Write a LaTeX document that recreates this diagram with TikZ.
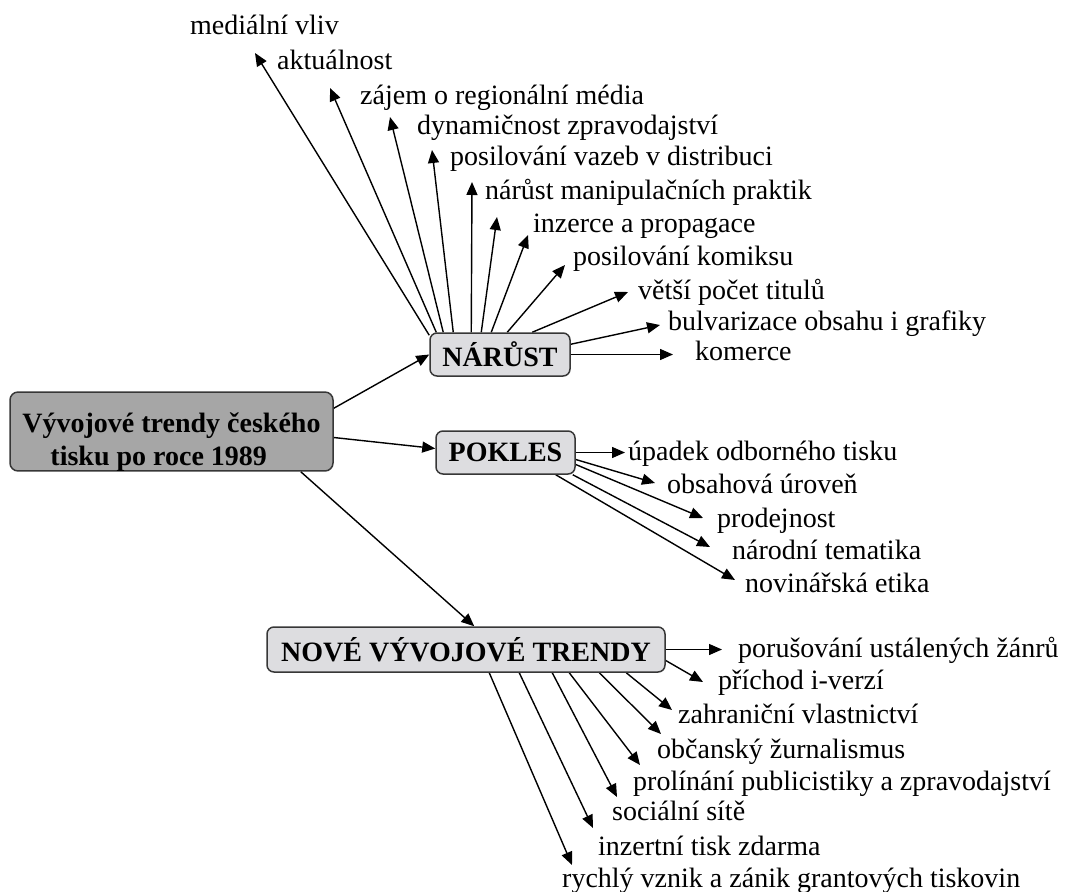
\documentclass[tikz,border=0pt]{standalone}
\usepackage{fontspec}
\setmainfont{Liberation Serif}
\usetikzlibrary{arrows.meta,calc}
\pgfdeclarelayer{bg}
\pgfsetlayers{bg,main}
\definecolor{hubfill}{RGB}{166,166,166}
\definecolor{boxfill}{RGB}{221,221,224}
\definecolor{boxline}{RGB}{55,55,55}
\tikzset{
  hub/.style={draw=boxline, line width=1.5pt, rounded corners=8pt, fill=hubfill,
    font=\fontsize{28}{33}\selectfont\bfseries, inner sep=0pt, align=left},
  branch/.style={draw=boxline, line width=1.5pt, rounded corners=7pt, fill=boxfill,
    font=\fontsize{28}{33}\selectfont\bfseries, inner sep=0pt},
  leaf/.style={font=\fontsize{28}{33}\selectfont, inner sep=0pt, anchor=base west},
  link/.style={line width=1.4pt, -{Triangle[length=13pt,width=11pt]}},
}
\begin{document}
\begin{tikzpicture}[x=1pt,y=-1pt]
\useasboundingbox (0,0) rectangle (1067,891);

% central topic and the three branches
\node[hub, minimum width=323pt, minimum height=77pt] (main) at (171.5,431.5)
  {\rule{0pt}{40pt}Vývojové trendy českého\\\hspace*{28pt}tisku po roce 1989};
\node[branch, minimum width=140pt, minimum height=43pt] (nar) at (500,354.5) {NÁRŮST};
\node[branch, minimum width=139pt, minimum height=43pt] (pok) at (505.5,452.5) {POKLES};
\node[branch, minimum width=398pt, minimum height=45pt] (nov) at (466,649.5) {NOVÉ VÝVOJOVÉ TRENDY};

% growth items
\node[leaf] (n1)  at (190,35)  {mediální vliv};
\node[leaf] (n2)  at (277,69)  {aktuálnost};
\node[leaf] (n3)  at (360,104) {zájem o regionální média};
\node[leaf] (n4)  at (417,134) {dynamičnost zpravodajství};
\node[leaf] (n5)  at (450,165) {posilování vazeb v distribuci};
\node[leaf] (n6)  at (485,199) {nárůst manipulačních praktik};
\node[leaf] (n7)  at (533,232) {inzerce a propagace};
\node[leaf] (n8)  at (573,265) {posilování komiksu};
\node[leaf] (n9)  at (638,299) {větší počet titulů};
\node[leaf] (n10) at (668,330) {bulvarizace obsahu i grafiky};
\node[leaf] (n11) at (695,360) {komerce};

% decline items
\node[leaf] (p1) at (628,460) {úpadek odborného tisku};
\node[leaf] (p2) at (667,493) {obsahová úroveň};
\node[leaf] (p3) at (717,527) {prodejnost};
\node[leaf] (p4) at (732,559) {národní tematika};
\node[leaf] (p5) at (745,592) {novinářská etika};

% new trends items
\node[leaf] (t1) at (738,657) {porušování ustálených žánrů};
\node[leaf] (t2) at (718,689) {příchod i-verzí};
\node[leaf] (t3) at (678,723) {zahraniční vlastnictví};
\node[leaf] (t4) at (657,758) {občanský žurnalismus};
\node[leaf] (t5) at (633,790) {prolínání publicistiky a zpravodajství};
\node[leaf] (t6) at (612,820) {sociální sítě};
\node[leaf] (t7) at (598,855) {inzertní tisk zdarma};
\node[leaf] (t8) at (562,887) {rychlý vznik a zánik grantových tiskovin};

% arrow tips next to the items
\coordinate (n1a) at (255,53);
\coordinate (n2a) at (330,88);
\coordinate (n3a) at (390,117);
\coordinate (n4a) at (432,150);
\coordinate (n5a) at (472,182);
\coordinate (n6a) at (497,217);
\coordinate (n7a) at (528,235);
\coordinate (n8a) at (565,265);
\coordinate (n9a) at (628,292);
\coordinate (n10a) at (660,325);
\coordinate (n11a) at (673,354.5);
\coordinate (p1a) at (625,452.5);
\coordinate (p2a) at (655,483);
\coordinate (p3a) at (703,518);
\coordinate (p4a) at (710,547);
\coordinate (p5a) at (735,580);
\coordinate (t1a) at (722,649.5);
\coordinate (t2a) at (703,682);
\coordinate (t3a) at (672,710);
\coordinate (t4a) at (661,734);
\coordinate (t5a) at (640,765);
\coordinate (t6a) at (617,797);
\coordinate (t7a) at (593,828);
\coordinate (t8a) at (572,865);

\begin{pgfonlayer}{bg}
  % central topic to branches
  \draw[link] ($(main.north east)+(0,17)$) -- (nar.west);
  \draw[link] ($(main.east)+(0,6)$) -- ($(pok.west)+(0,-4)$);
  \draw[link] ($(main.south east)+(-33,0)$) -- ($(nov.north west)+(208,0)$);

  % growth fan
  \draw[link] ($(nar.north west)+(0,3)$)  -- (n1a);
  \draw[link] ($(nar.north west)+(7,0)$)  -- (n2a);
  \draw[link] ($(nar.north west)+(14,0)$) -- (n3a);
  \draw[link] ($(nar.north west)+(24,0)$) -- (n4a);
  \draw[link] ($(nar.north west)+(42,0)$) -- (n5a);
  \draw[link] ($(nar.north west)+(52,0)$) -- (n6a);
  \draw[link] ($(nar.north west)+(62,0)$) -- (n7a);
  \draw[link] ($(nar.north west)+(78,0)$) -- (n8a);
  \draw[link] ($(nar.north west)+(103,0)$) -- (n9a);
  \draw[link] ($(nar.north east)+(0,12)$) -- (n10a);
  \draw[link] (nar.east) -- (n11a);

  % decline fan
  \draw[link] (pok.east) -- (p1a);
  \draw[link] ($(pok.east)+(0,7)$)  -- (p2a);
  \draw[link] ($(pok.east)+(0,12)$) -- (p3a);
  \draw[link] ($(pok.south east)+(-3,0)$)  -- (p4a);
  \draw[link] ($(pok.south east)+(-20,0)$) -- (p5a);

  % new trends fan
  \draw[link] (nov.east) -- (t1a);
  \draw[link] ($(nov.east)+(0,11)$) -- (t2a);
  \draw[link] ($(nov.south west)+(360,0)$) -- (t3a);
  \draw[link] ($(nov.south west)+(333,0)$) -- (t4a);
  \draw[link] ($(nov.south west)+(303,0)$) -- (t5a);
  \draw[link] ($(nov.south west)+(286,0)$) -- (t6a);
  \draw[link] ($(nov.south west)+(253,0)$) -- (t7a);
  \draw[link] ($(nov.south west)+(223,0)$) -- (t8a);
\end{pgfonlayer}
\end{tikzpicture}
\end{document}
